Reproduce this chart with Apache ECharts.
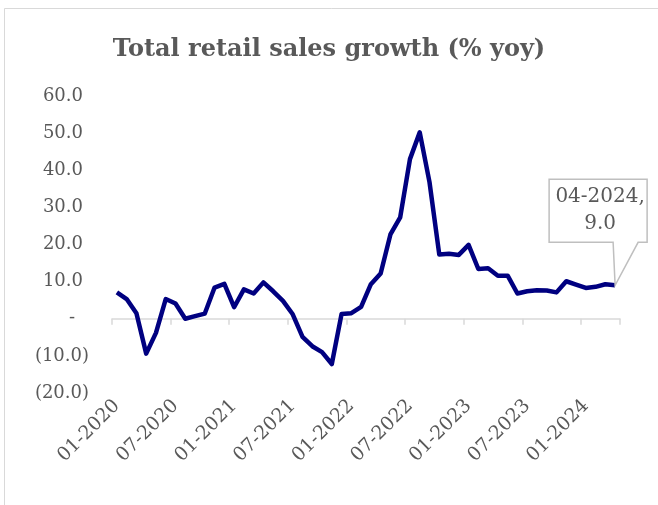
<!DOCTYPE html>
<html>
<head>
<meta charset="utf-8">
<script src="https://cdn.jsdelivr.net/npm/echarts@6/dist/echarts.min.js"></script>
<style>
  html, body { margin: 0; padding: 0; background: #ffffff; }
  #chart { width: 658px; height: 505px; }
</style>
</head>
<body>
<div id="chart"></div>
<script>
// Monthly periods, 01-2020 to 04-2024
const months = [];
for (let y = 2020; y <= 2024; y++) {
  for (let m = 1; m <= 12; m++) {
    if (y === 2024 && m > 4) break;
    months.push((m < 10 ? '0' + m : '' + m) + '-' + y);
  }
}

// Total retail sales growth, % year on year
const growth = [
  7.1, 5.3, 1.5, -9.4, -3.8, 5.3, 4.1, 0.0, 0.7, 1.4, 8.4, 9.4,
  3.1, 7.9, 6.8, 9.8, 7.4, 4.8, 1.2, -4.9, -7.4, -9.0, -12.2, 1.3,
  1.5, 3.2, 9.3, 12.2, 22.7, 27.3, 43.0, 50.2, 36.8, 17.3, 17.5, 17.2,
  19.9, 13.4, 13.6, 11.6, 11.6, 6.8, 7.4, 7.7, 7.6, 7.1, 10.1, 9.2,
  8.3, 8.6, 9.3, 9.0
];

const yTicks = { min: -20, max: 60, step: 10 };
const titleText = 'Total retail sales growth (% yoy)';

const FONT = '"DejaVu Serif", serif';
const GREY = '#595959';

const chart = echarts.init(document.getElementById('chart'));

function fmtAxis(v) {
  if (v === 0) return '{z|-}';
  if (v < 0) return '{n|(' + Math.abs(v).toFixed(1) + ')}';
  return '{p|' + v.toFixed(1) + '}';
}

const everySix = (i) => i % 6 === 0;

const frame = {
  type: 'rect',
  silent: true,
  shape: { x: 4.5, y: 8.5, width: 700, height: 600 },
  style: { fill: 'none', stroke: '#d9d9d9', lineWidth: 1 },
  z: -1
};

chart.setOption({
  backgroundColor: '#ffffff',
  animation: false,
  title: {
    text: titleText,
    left: 'center',
    top: 33,
    textStyle: { fontFamily: FONT, fontSize: 24, fontWeight: 'bold', color: GREY }
  },
  grid: { left: 112, right: 38, top: 96, bottom: 112 },
  xAxis: [
    {
      type: 'category',
      data: months,
      boundaryGap: true,
      axisLine: { onZero: true, lineStyle: { color: '#d9d9d9', width: 1.5 } },
      axisTick: { show: true, interval: (i) => everySix(i), length: 6, lineStyle: { color: '#d9d9d9', width: 1.5 } },
      axisLabel: { show: false },
      splitLine: { show: false }
    },
    {
      type: 'category',
      data: months,
      position: 'bottom',
      boundaryGap: true,
      axisLine: { show: false },
      axisTick: { show: false },
      axisLabel: {
        interval: (i) => everySix(i),
        rotate: 45,
        margin: 10,
        fontFamily: FONT,
        fontSize: 19,
        color: GREY
      },
      splitLine: { show: false }
    }
  ],
  yAxis: {
    type: 'value',
    min: yTicks.min,
    max: yTicks.max,
    interval: yTicks.step,
    axisLine: { show: false },
    axisTick: { show: false },
    splitLine: { show: false },
    axisLabel: {
      margin: 23,
      formatter: fmtAxis,
      rich: {
        p: { fontFamily: FONT, fontSize: 18, color: GREY, padding: [0, 6, 0, 0] },
        n: { fontFamily: FONT, fontSize: 18, color: GREY },
        z: { fontFamily: FONT, fontSize: 18, color: GREY, padding: [0, 14, 0, 0] }
      }
    }
  },
  series: [
    {
      type: 'line',
      xAxisIndex: 0,
      data: growth,
      symbol: 'none',
      lineStyle: { color: '#000080', width: 4.5, join: 'round' },
      z: 3
    }
  ],
  graphic: [frame]
});

// Callout on the latest reading, anchored to the data point
const lastIdx = growth.length - 1;
const tip = chart.convertToPixel({ seriesIndex: 0 }, [lastIdx, growth[lastIdx]]);
const px = tip[0], py = tip[1];
const boxL = px - 66, boxR = px + 32, boxT = py - 106, boxB = py - 43;
chart.setOption({
  graphic: [
    frame,
    {
      type: 'polygon',
      silent: true,
      shape: {
        points: [
          [boxL, boxT], [boxR, boxT], [boxR, boxB], [px + 23, boxB],
          [px, py], [px - 2, boxB], [boxL, boxB]
        ]
      },
      style: { fill: '#ffffff', stroke: '#bfbfbf', lineWidth: 1.5 },
      z: 10
    },
    {
      type: 'text',
      silent: true,
      x: (boxL + boxR) / 2 + 2,
      y: (boxT + boxB) / 2 - 1,
      style: {
        text: months[lastIdx] + ',\n' + growth[lastIdx].toFixed(1),
        fontFamily: FONT,
        fontSize: 20,
        lineHeight: 27,
        fill: GREY,
        align: 'center',
        verticalAlign: 'middle'
      },
      z: 11
    }
  ]
});
</script>
</body>
</html>
